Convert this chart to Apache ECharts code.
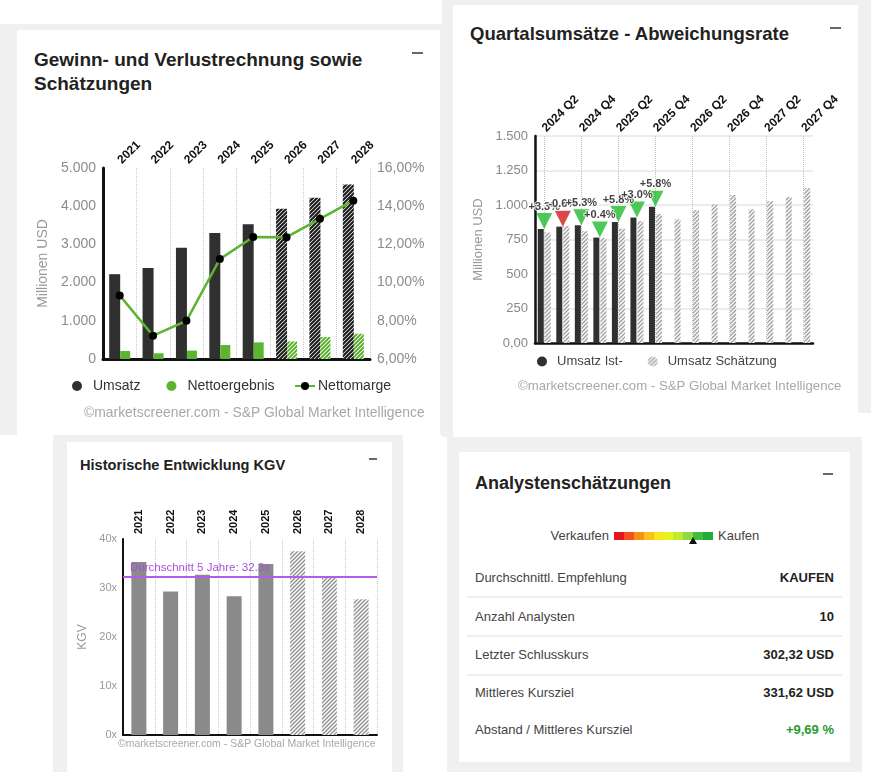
<!DOCTYPE html>
<html><head><meta charset="utf-8">
<script src="https://cdn.jsdelivr.net/npm/echarts@6/dist/echarts.min.js"></script>
<style>
html,body{margin:0;padding:0;background:#fff;width:871px;height:772px;overflow:hidden;font-family:"Liberation Sans",Arial,sans-serif;}
.abs{position:absolute;}
.gray{position:absolute;background:#f0f0f0;}
.card{position:absolute;background:#fff;}
.minus{position:absolute;height:2px;background:#666;}
.title{position:absolute;font-weight:bold;color:#222;white-space:nowrap;}
.row{position:absolute;left:475px;width:359px;height:16px;line-height:16px;font-size:13px;color:#444;}
.row .v{position:absolute;right:0;top:0;font-weight:bold;color:#222;}
.sep{position:absolute;left:467px;width:375px;height:2px;background:#eeeeee;}
</style></head><body>
<div class="gray" style="left:0;top:24px;width:442px;height:411px"></div>
<div class="gray" style="left:442px;top:0;width:429px;height:413px"></div>
<div class="gray" style="left:442px;top:413px;width:416px;height:24px"></div>
<div class="gray" style="left:53px;top:435px;width:350px;height:337px"></div>
<div class="gray" style="left:447px;top:437px;width:415px;height:335px"></div>
<div class="card" style="left:17px;top:30px;width:423px;height:405px"></div>
<div class="card" style="left:453px;top:5px;width:405px;height:432px"></div>
<div class="card" style="left:67px;top:442px;width:325px;height:330px"></div>
<div class="card" style="left:459px;top:452px;width:391px;height:310px"></div>

<div class="title" style="left:34px;top:48px;font-size:19px;line-height:24px">Gewinn- und Verlustrechnung sowie<br>Schätzungen</div>
<div class="title" style="left:470px;top:22.5px;font-size:18.5px;line-height:22px">Quartalsumsätze - Abweichungsrate</div>
<div class="title" style="left:80px;top:456.5px;font-size:14.6px;line-height:17px">Historische Entwicklung KGV</div>
<div class="title" style="left:475px;top:472px;font-size:18px;line-height:22px">Analystenschätzungen</div>
<div class="minus" style="left:412px;top:52px;width:11px"></div>
<div class="minus" style="left:830px;top:27px;width:11px"></div>
<div class="minus" style="left:369px;top:458px;width:8px"></div>
<div class="minus" style="left:823px;top:473px;width:10px"></div>

<div id="chartA" class="abs" style="left:17px;top:30px;width:423px;height:403px"></div>
<div id="chartB" class="abs" style="left:453px;top:5px;width:405px;height:432px"></div>
<div id="chartC" class="abs" style="left:67px;top:442px;width:325px;height:330px"></div>
<div id="panelD"></div>

<script>
// ---------- Data: Panel A (Gewinn- und Verlustrechnung) ----------
const yearsA = ['2021','2022','2023','2024','2025','2026','2027','2028'];
const umsatzA = [2220, 2380, 2910, 3300, 3530, 3930, 4220, 4565];
const nettoergebnisA = [210, 150, 220, 365, 435, 460, 575, 660];
const nettomargeA = [9.33, 7.22, 8.0, 11.23, 12.39, 12.38, 13.34, 14.29];
const estimateA = [false,false,false,false,false,true,true,true];
const leftTicksA = [0, 5000, 1000];
const rightTicksA = [6, 16, 2];

// ---------- Data: Panel B (Quartalsumsätze) ----------
const quartersB = ['2024 Q2','2024 Q3','2024 Q4','2025 Q1','2025 Q2','2025 Q3','2025 Q4',
  '2026 Q1','2026 Q2','2026 Q3','2026 Q4','2027 Q1','2027 Q2','2027 Q3','2027 Q4'];
const umsatzIstB = [826, 843, 853, 764, 877, 909, 988, null, null, null, null, null, null, null, null];
const umsatzSchaetzungB = [800, 848, 810, 761, 829, 883, 934, 896, 962, 1005, 1073, 969, 1027, 1058, 1121];
const abweichungB = [3.3, -0.6, 5.3, 0.4, 5.8, 3.0, 5.8];

// ---------- Data: Panel C (KGV) ----------
const yearsC = ['2021','2022','2023','2024','2025','2026','2027','2028'];
const kgvC = [35.3, 29.3, 32.7, 28.3, 34.9, 37.5, 32.3, 27.7];
const estimateC = [false,false,false,false,false,true,true,true];
const avgKgvC = 32.3;

// ---------- Data: Panel D (Analystenschätzungen) ----------
const ratingColors = ['#e8141b','#f4501d','#f98f1b','#fcc11b','#fde51d','#e6f31f','#c2ea2c','#8fd845','#3ebf3c','#22aa3e'];
const ratingPosition = 0.80;
const rowLabelsD = ['Durchschnittl. Empfehlung','Anzahl Analysten','Letzter Schlusskurs','Mittleres Kursziel','Abstand / Mittleres Kursziel'];
const rowValuesD = ['KAUFEN','10','302,32 USD','331,62 USD','+9,69 %'];

const FOOT = '©marketscreener.com - S&P Global Market Intelligence';
const FONT = '"Liberation Sans", Arial, sans-serif';

function hatch(fg, bg, size, lw){
  const c=document.createElement('canvas'); c.width=size; c.height=size;
  const g=c.getContext('2d'); g.fillStyle=bg; g.fillRect(0,0,size,size);
  g.strokeStyle=fg; g.lineWidth=lw; g.beginPath();
  g.moveTo(-1,size+1); g.lineTo(size+1,-1);
  g.moveTo(-1,1); g.lineTo(1,-1);
  g.moveTo(size-1,size+1); g.lineTo(size+1,size-1);
  g.stroke();
  return {image:c, repeat:'repeat'};
}
function thousands(v){ return String(v).replace(/\B(?=(\d{3})+(?!\d))/g,'.'); }

// ---------- Chart A ----------
(function(){
  const dark='#303030', green='#5cb531';
  const hBlack=hatch('#1a1a1a','#fff',4,2.1), hGreen=hatch('#4fae1c','#fff',4,1.9);
  const ch=echarts.init(document.getElementById('chartA'));
  ch.setOption({
    animation:false,
    textStyle:{fontFamily:FONT},
    grid:{left:86,right:70,top:138,bottom:74},
    legend:[
      {data:['Umsatz','Nettoergebnis'],left:50,top:344,icon:'circle',itemWidth:10,itemHeight:10,itemGap:26,
       textStyle:{fontSize:14,color:'#333',padding:[0,0,0,6]}},
      {data:['Nettomarge'],left:272,top:344,itemWidth:20,itemHeight:10,
       textStyle:{fontSize:14,color:'#333',padding:[0,0,0,-2]}}
    ],
    xAxis:[
      {type:'category',data:yearsA,position:'top',axisLine:{show:false},axisTick:{show:false},
       axisLabel:{rotate:45,fontWeight:'bold',fontSize:12,color:'#111',margin:6,interval:0},
       splitLine:{show:true,lineStyle:{type:'dotted',color:'#c8c8c8'}}},
      {type:'category',data:yearsA,position:'bottom',axisLine:{lineStyle:{color:'#111',width:3}},
       axisTick:{show:false},axisLabel:{show:false}}
    ],
    yAxis:[
      {type:'value',min:leftTicksA[0],max:leftTicksA[1],interval:leftTicksA[2],
       axisLine:{show:true,lineStyle:{color:'#111',width:3}},splitLine:{show:false},
       axisLabel:{color:'#8c8c8c',fontSize:14,margin:7,formatter:thousands},
       name:'Millionen USD',nameLocation:'middle',nameGap:50,nameTextStyle:{color:'#999',fontSize:14}},
      {type:'value',min:rightTicksA[0],max:rightTicksA[1],interval:rightTicksA[2],position:'right',
       axisLine:{show:false},splitLine:{show:false},
       axisLabel:{color:'#8c8c8c',fontSize:14,margin:7,formatter:v=>v.toFixed(2).replace('.',',')+'%'}}
    ],
    series:[
      {name:'Umsatz',type:'bar',barWidth:11,barGap:'0%',itemStyle:{color:dark},
       data:umsatzA.map((v,i)=>estimateA[i]?{value:v,itemStyle:{color:hBlack}}:v)},
      {name:'Nettoergebnis',type:'bar',barWidth:10,itemStyle:{color:green},
       data:nettoergebnisA.map((v,i)=>estimateA[i]?{value:v,itemStyle:{color:hGreen}}:v)},
      {name:'Nettomarge',type:'line',yAxisIndex:1,data:nettomargeA,symbol:'circle',symbolSize:8,
       lineStyle:{color:green,width:2.5},itemStyle:{color:'#000'},z:5}
    ],
    graphic:[{type:'text',left:67,top:376,style:{text:FOOT,fontSize:13.9,fill:'#a8a8a8',fontFamily:FONT}}]
  });
})();

// ---------- Chart B ----------
(function(){
  const hGray=hatch('#a3a3a3','#fff',4,1.5);
  const ch=echarts.init(document.getElementById('chartB'));
  ch.setOption({
    animation:false,
    textStyle:{fontFamily:FONT},
    grid:{left:82,right:45,top:131,bottom:94},
    legend:{data:['Umsatz Ist-','Umsatz Schätzung'],left:79,top:345,icon:'circle',itemWidth:10,itemHeight:10,itemGap:25,
      textStyle:{fontSize:13,color:'#444',padding:[0,0,0,5]}},
    xAxis:[
      {type:'category',data:quartersB,position:'top',axisLine:{show:false},axisTick:{show:false},
       axisLabel:{rotate:45,fontWeight:'bold',fontSize:12,color:'#111',margin:6,interval:1}},
      {type:'category',data:quartersB,position:'bottom',axisLine:{lineStyle:{color:'#111',width:2.5}},
       axisTick:{show:false},axisLabel:{show:false}}
    ],
    yAxis:{type:'value',min:0,max:1500,interval:250,
      axisLine:{show:true,lineStyle:{color:'#111',width:2.5}},
      splitLine:{show:true,lineStyle:{color:'#e6e6e6',width:1.5}},
      axisLabel:{color:'#888',fontSize:13,margin:7,formatter:v=>v===0?'0,00':thousands(v)},
      name:'Millionen USD',nameLocation:'middle',nameGap:47,nameTextStyle:{color:'#999',fontSize:13}},
    series:[
      {name:'Umsatz Ist-',type:'bar',barWidth:6,barGap:'17%',itemStyle:{color:'#303030'},data:umsatzIstB,z:3},
      {name:'Umsatz Schätzung',type:'bar',barWidth:6,itemStyle:{color:hGray},data:umsatzSchaetzungB,z:3},
      {name:'Raster',type:'line',data:[],z:1,silent:true,
       markLine:{silent:true,symbol:'none',label:{show:false},
         lineStyle:{type:'dotted',color:'#bdbdbd',width:1},
         data:quartersB.filter((q,i)=>i%2===0).map(q=>({xAxis:q}))}},
      {name:'Abweichung',type:'scatter',symbol:'triangle',symbolRotate:180,symbolSize:[16,16],symbolOffset:[0,-8],z:5,
       data:abweichungB.map((d,i)=>({value:umsatzIstB[i],dev:d,itemStyle:{color:d<0?'#d11a1a':'#1fbb2c'}})),
       label:{show:true,position:'top',distance:1,fontSize:11,fontWeight:'bold',color:'#111',
         textBorderColor:'#fff',textBorderWidth:2,
         formatter:p=>(p.data.dev>=0?'+':'')+p.data.dev.toFixed(1)+'%'},
       labelLayout:{hideOverlap:false}}
    ],
    graphic:[{type:'text',left:65,top:375,style:{text:FOOT,fontSize:13.2,fill:'#a8a8a8',fontFamily:FONT}}]
  });
})();

// ---------- Chart C ----------
(function(){
  const hGray=hatch('#8c8c8c','#fff',4,1.3);
  const ch=echarts.init(document.getElementById('chartC'));
  ch.setOption({
    animation:false,
    textStyle:{fontFamily:FONT},
    grid:{left:56,right:15,top:97,bottom:37},
    xAxis:[
      {type:'category',data:yearsC,position:'top',axisLine:{show:false},axisTick:{show:false},
       axisLabel:{rotate:90,fontWeight:'bold',fontSize:11,color:'#111',margin:5,interval:0},
       splitLine:{show:true,lineStyle:{type:'dotted',color:'#c8c8c8'}}},
      {type:'category',data:yearsC,position:'bottom',axisLine:{lineStyle:{color:'#111',width:2}},
       axisTick:{show:false},axisLabel:{show:false}}
    ],
    yAxis:{type:'value',min:0,max:40,interval:10,
      axisLine:{show:true,lineStyle:{color:'#111',width:2}},splitLine:{show:false},
      axisLabel:{color:'#999',fontSize:11,margin:6,formatter:v=>v+'x'},
      name:'KGV',nameLocation:'middle',nameGap:28,nameTextStyle:{color:'#999',fontSize:12}},
    series:[
      {name:'KGV',type:'bar',barWidth:15,itemStyle:{color:'#8a8a8a'},z:2,
       data:kgvC.map((v,i)=>estimateC[i]?{value:v,itemStyle:{color:hGray}}:v)},
      {name:'Durchschnitt',type:'line',data:[],z:10,silent:true,
       markLine:{silent:true,symbol:'none',lineStyle:{color:'#b55be8',width:2,type:'solid'},
        label:{position:'insideStartTop',color:'#a94fe0',fontSize:11.5,distance:[7,3],
          formatter:'Durchschnitt 5 Jahre: '+avgKgvC+'x'},
        data:[{yAxis:avgKgvC}]}}
    ],
    graphic:[{type:'text',left:51,top:297,style:{text:FOOT,fontSize:10.5,fill:'#a8a8a8',fontFamily:FONT}}]
  });
})();

// ---------- Panel D (HTML) ----------
(function(){
  const root=document.getElementById('panelD');
  let h='';
  h+='<div class="abs" style="left:530px;top:528px;width:79px;text-align:right;font-size:13px;line-height:16px;color:#444">Verkaufen</div>';
  const x0=614.3, w=98/ratingColors.length;
  ratingColors.forEach((c,i)=>{
    h+='<div class="abs" style="left:'+(x0+i*w)+'px;top:531.5px;width:'+(w+0.3)+'px;height:8.5px;background:'+c+'"></div>';
  });
  const tx=x0+98*ratingPosition;
  h+='<div class="abs" style="left:'+(tx-4)+'px;top:537px;width:0;height:0;border-left:4px solid transparent;border-right:4px solid transparent;border-bottom:7px solid #111"></div>';
  h+='<div class="abs" style="left:718px;top:528px;font-size:13px;line-height:16px;color:#444">Kaufen</div>';
  const ys=[570.3,608.7,647,684.7,722];
  rowLabelsD.forEach((t,i)=>{
    const col = i===4 ? 'color:#2a9a2a' : '';
    h+='<div class="row" style="top:'+ys[i]+'px">'+t+'<span class="v" style="'+col+'">'+rowValuesD[i]+'</span></div>';
  });
  [596,635,673.5].forEach(y=>{ h+='<div class="sep" style="top:'+y+'px"></div>'; });
  root.innerHTML=h;
})();
</script>
</body></html>
